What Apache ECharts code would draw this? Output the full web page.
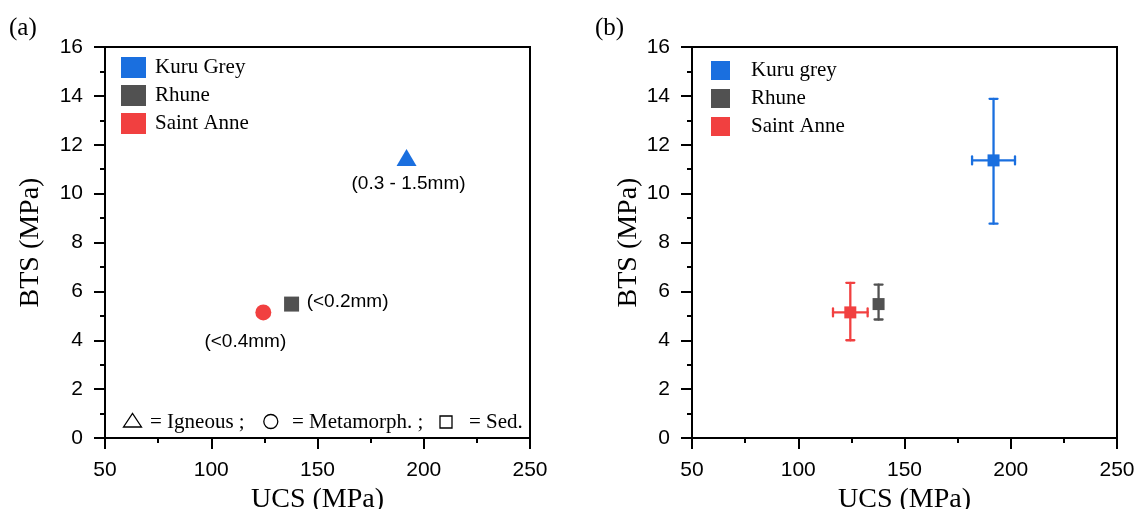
<!DOCTYPE html>
<html>
<head>
<meta charset="utf-8">
<script src="https://cdn.jsdelivr.net/npm/echarts@6/dist/echarts.min.js"></script>
<style>
  html, body { margin: 0; padding: 0; background: #fff; }
  #chart { width: 1139px; height: 509px; }
</style>
</head>
<body>
<div id="chart"></div>
<script>
// rock names, as written in each panel's legend
var rocksA = ['Kuru Grey', 'Rhune', 'Saint Anne'];
var rocksB = ['Kuru grey', 'Rhune', 'Saint Anne'];
var rockColors = ['#1A6FDF', '#515151', '#F14040'];
var symbolsA = ['triangle', 'rect', 'circle'];
var grainLabels = ['(0.3 - 1.5mm)', '(<0.2mm)', '(<0.4mm)'];

// mean values (MPa)
var ucs = [191.9, 137.8, 124.5];
var bts = [11.36, 5.48, 5.14];
// error bars (MPa)
var ucsErr = [10.1, 1.0, 8.15];
var btsErrPlus = [2.52, 0.80, 1.21];
var btsErrMinus = [2.59, 0.63, 1.14];

// axis ticks
var ucsTicks = [50, 250, 50];   // min, max, interval
var btsTicks = [0, 16, 2];

var serif = 'Liberation Serif';
var sans = 'Liberation Sans';

var chart = echarts.init(document.getElementById('chart'));

function makeXAxis(gridIndex) {
    return {
        gridIndex: gridIndex,
        type: 'value',
        min: ucsTicks[0], max: ucsTicks[1], interval: ucsTicks[2],
        name: 'UCS (MPa)',
        nameLocation: 'middle',
        nameGap: 45,
        nameTextStyle: { fontFamily: serif, fontSize: 28, color: '#000' },
        axisLine: { show: true, lineStyle: { color: '#000', width: 2 } },
        axisTick: { show: true, inside: false, length: 11, lineStyle: { color: '#000', width: 2 } },
        minorTick: { show: true, splitNumber: 2, length: 5, lineStyle: { color: '#000', width: 2 } },
        axisLabel: { fontFamily: sans, fontSize: 21, color: '#000', margin: 22 },
        splitLine: { show: false }
    };
}

function makeYAxis(gridIndex, gap) {
    return {
        gridIndex: gridIndex,
        type: 'value',
        min: btsTicks[0], max: btsTicks[1], interval: btsTicks[2],
        name: 'BTS (MPa)',
        nameLocation: 'middle',
        nameGap: gap,
        nameTextStyle: { fontFamily: serif, fontSize: 28, color: '#000' },
        axisLine: { show: true, lineStyle: { color: '#000', width: 2 } },
        axisTick: { show: true, inside: false, length: 11, lineStyle: { color: '#000', width: 2 } },
        minorTick: { show: true, splitNumber: 2, length: 5, lineStyle: { color: '#000', width: 2 } },
        axisLabel: { fontFamily: sans, fontSize: 21, color: '#000', margin: 22 },
        splitLine: { show: false }
    };
}

var series = [];

// panel (a): one marker per rock with its grain size label
var labelOffsets = [[2, 26], [56, -2], [-18, 29]];
for (var i = 0; i < rocksA.length; i++) {
    series.push({
        name: rocksA[i],
        type: 'scatter',
        xAxisIndex: 0,
        yAxisIndex: 0,
        symbol: symbolsA[i],
        symbolSize: i === 0 ? [20, 17] : (i === 1 ? 15 : 16),
        symbolOffset: i === 0 ? [0, -3] : [0, 0],
        itemStyle: { color: rockColors[i], opacity: 1 },
        label: {
            show: true,
            position: 'inside',
            offset: labelOffsets[i],
            formatter: grainLabels[i],
            fontFamily: sans,
            fontSize: 19,
            color: '#000',
            textBorderWidth: 0
        },
        data: [[ucs[i], bts[i]]],
        z: 3
    });
}

// panel (b): error bars then square markers
for (var j = 0; j < rocksB.length; j++) {
    series.push({
        name: 'err' + j,
        type: 'custom',
        xAxisIndex: 1,
        yAxisIndex: 1,
        encode: { x: 0, y: 1 },
        data: [[ucs[j], bts[j], ucsErr[j], btsErrPlus[j], btsErrMinus[j]]],
        itemStyle: { color: rockColors[j] },
        renderItem: function (params, api) {
            var x = api.value(0), y = api.value(1);
            var xe = api.value(2), yp = api.value(3), ym = api.value(4);
            var top = api.coord([x, y + yp]);
            var bot = api.coord([x, y - ym]);
            var lft = api.coord([x - xe, y]);
            var rgt = api.coord([x + xe, y]);
            var cap = 4;
            var style = { stroke: api.visual('color'), lineWidth: 2.3, lineCap: 'round' };
            return {
                type: 'group',
                children: [
                    { type: 'line', shape: { x1: top[0], y1: top[1], x2: bot[0], y2: bot[1] }, style: style },
                    { type: 'line', shape: { x1: lft[0], y1: lft[1], x2: rgt[0], y2: rgt[1] }, style: style },
                    { type: 'line', shape: { x1: top[0] - cap, y1: top[1], x2: top[0] + cap, y2: top[1] }, style: style },
                    { type: 'line', shape: { x1: bot[0] - cap, y1: bot[1], x2: bot[0] + cap, y2: bot[1] }, style: style },
                    { type: 'line', shape: { x1: lft[0], y1: lft[1] - cap, x2: lft[0], y2: lft[1] + cap }, style: style },
                    { type: 'line', shape: { x1: rgt[0], y1: rgt[1] - cap, x2: rgt[0], y2: rgt[1] + cap }, style: style }
                ]
            };
        },
        z: 2
    });
    series.push({
        name: rocksB[j],
        type: 'scatter',
        xAxisIndex: 1,
        yAxisIndex: 1,
        symbol: 'rect',
        symbolSize: 12,
        itemStyle: { color: rockColors[j], opacity: 1 },
        data: [[ucs[j], bts[j]]],
        z: 3
    });
}

var legendText = { fontFamily: serif, fontSize: 21, color: '#000' };

chart.setOption({
    backgroundColor: '#fff',
    animation: false,
    grid: [
        { left: 105, top: 47, width: 425, height: 391, show: true, borderColor: '#000', borderWidth: 2, containLabel: false, outerBoundsMode: 'none' },
        { left: 692, top: 47, width: 425, height: 391, show: true, borderColor: '#000', borderWidth: 2, containLabel: false, outerBoundsMode: 'none' }
    ],
    xAxis: [makeXAxis(0), makeXAxis(1)],
    yAxis: [makeYAxis(0, 60), makeYAxis(1, 49)],
    legend: [
        {
            data: rocksA,
            orient: 'vertical',
            left: 121, top: 57,
            padding: 0,
            icon: 'rect',
            itemWidth: 25, itemHeight: 21, itemGap: 7,
            selectedMode: false,
            textStyle: Object.assign({ padding: [0, 0, 0, 4] }, legendText)
        },
        {
            data: rocksB,
            orient: 'vertical',
            left: 711, top: 60,
            padding: 0,
            icon: 'rect',
            itemWidth: 19, itemHeight: 19, itemGap: 7,
            selectedMode: false,
            textStyle: Object.assign({ padding: [0, 0, 0, 16] }, legendText)
        }
    ],
    graphic: [
        { type: 'text', left: 9, top: 16, style: { text: '(a)', font: '25px "Liberation Serif"', fill: '#000' } },
        { type: 'text', left: 595, top: 16, style: { text: '(b)', font: '25px "Liberation Serif"', fill: '#000' } },
        // rock type key in panel (a)
        { type: 'polygon', shape: { points: [[123.5, 427], [141.5, 427], [132.5, 413.5]] }, style: { fill: 'none', stroke: '#000', lineWidth: 1.3 } },
        { type: 'text', x: 150, y: 422, style: { text: '= Igneous ;', font: '21px "Liberation Serif"', fill: '#000', verticalAlign: 'middle' } },
        { type: 'circle', shape: { cx: 270.8, cy: 421.5, r: 7 }, style: { fill: 'none', stroke: '#000', lineWidth: 1.3 } },
        { type: 'text', x: 292, y: 422, style: { text: '= Metamorph. ;', font: '21px "Liberation Serif"', fill: '#000', verticalAlign: 'middle' } },
        { type: 'rect', shape: { x: 440, y: 416, width: 12, height: 12 }, style: { fill: 'none', stroke: '#000', lineWidth: 1.3 } },
        { type: 'text', x: 469, y: 422, style: { text: '= Sed.', font: '21px "Liberation Serif"', fill: '#000', verticalAlign: 'middle' } }
    ],
    series: series
});
</script>
</body>
</html>
